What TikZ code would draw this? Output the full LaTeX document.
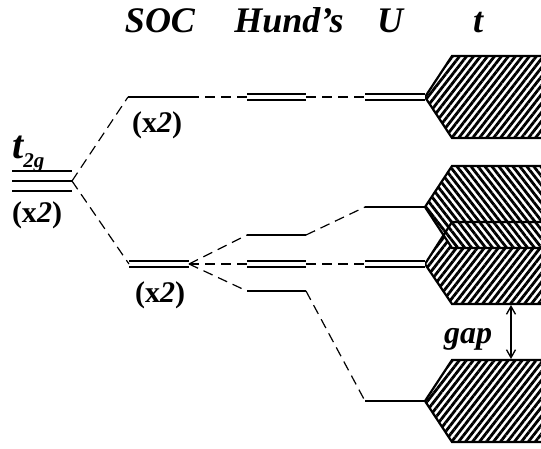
\documentclass[tikz,border=0pt]{standalone}
\usepackage{fontspec}
\setmainfont{Liberation Serif}
\usetikzlibrary{patterns.meta,arrows.meta}
\begin{document}
\begin{tikzpicture}[x=1pt,y=-1pt,
  lvl/.style={line width=1.8pt},
  dbl/.style={line width=1.5pt, double, double distance=4.5pt},
  dl/.style={line width=1.2pt, dash pattern=on 10pt off 6pt},
  hex/.style={line width=2.2pt, line join=miter},
  hatchA/.style={pattern={Lines[angle=52,distance=5.5pt,line width=2.8pt]}},
  hatchB/.style={pattern={Lines[angle=-52,distance=5.5pt,line width=2.8pt]}},
  ttl/.style={font=\fontsize{36}{36}\selectfont\bfseries\itshape, inner sep=0pt, anchor=base},
  mult/.style={font=\fontsize{30}{30}\selectfont\bfseries, inner sep=0pt}]
\useasboundingbox (0,0) rectangle (541,448);
\clip (0,0) rectangle (541,448);

% titles
\node[ttl] (soc) at (160,32) {SOC};
\node[ttl] (hund) at (289,32) {Hund's};
\node[ttl] (uu) at (390,32) {U};
\node[ttl] (tt) at (478,32) {t};

% coordinates
\coordinate (T) at (72,181);
\coordinate (S1a) at (128,97);  \coordinate (S1b) at (189,97);
\coordinate (S2a) at (129,264); \coordinate (S2b) at (189,264);
\coordinate (H1a) at (247,97);  \coordinate (H1b) at (306,97);
\coordinate (H2a) at (247,235); \coordinate (H2b) at (306,235);
\coordinate (H3a) at (247,264); \coordinate (H3b) at (306,264);
\coordinate (H4a) at (247,291); \coordinate (H4b) at (306,291);
\coordinate (U1a) at (365,97);  \coordinate (U1b) at (425,97);
\coordinate (U2a) at (365,207); \coordinate (U2b) at (425,207);
\coordinate (U3a) at (365,264); \coordinate (U3b) at (425,264);
\coordinate (U4a) at (365,401); \coordinate (U4b) at (425,401);

% hexagon bands
\fill[hatchA] (546,222) -- (452,222) -- (U3b) -- (452,304) -- (546,304) -- cycle;
\fill[white] (546,166) -- (452,166) -- (U2b) -- (452,248) -- (546,248) -- cycle;
\draw[hex,hatchB] (546,166) -- (452,166) -- (U2b) -- (452,248) -- (546,248) -- cycle;
\draw[hex] (546,222) -- (452,222) -- (U3b) -- (452,304) -- (546,304) -- cycle;
\draw[hex,hatchA] (546,56) -- (452,56) -- (U1b) -- (452,138) -- (546,138) -- cycle;
\draw[hex,hatchA] (546,360) -- (452,360) -- (U4b) -- (452,442) -- (546,442) -- cycle;

% t2g levels
\draw[lvl] (12,171) -- (72,171);
\draw[lvl] (12,181) -- (T);
\draw[lvl] (12,191) -- (72,191);
\node[inner sep=0pt, anchor=base west] (t2g) at (12,158)
  {\fontsize{40}{40}\selectfont\bfseries\itshape t\raisebox{-9pt}{\fontsize{21}{21}\selectfont 2g}};
\node[mult] (m0) at (37,215) {(x\textit{2})};

% SOC levels
\draw[lvl] (S1a) -- (S1b);
\draw[dbl] (S2a) -- (S2b);
\node[mult] (m1) at (157,125) {(x\textit{2})};
\node[mult] (m2) at (160,295) {(x\textit{2})};

% Hund's levels
\draw[dbl] (H1a) -- (H1b);
\draw[lvl] (H2a) -- (H2b);
\draw[dbl] (H3a) -- (H3b);
\draw[lvl] (H4a) -- (H4b);

% U levels
\draw[dbl] (U1a) -- (U1b);
\draw[lvl] (U2a) -- (U2b);
\draw[dbl] (U3a) -- (U3b);
\draw[lvl] (U4a) -- (U4b);

% dashed connectors
\draw[dl] (T) -- (S1a);
\draw[dl] (T) -- (S2a);
\draw[dl] (S1b) -- (H1a);
\draw[dl] (S2b) -- (H2a);
\draw[dl] (S2b) -- (H3a);
\draw[dl] (S2b) -- (H4a);
\draw[dl] (H1b) -- (U1a);
\draw[dl] (H2b) -- (U2a);
\draw[dl] (H3b) -- (U3a);
\draw[dl] (H4b) -- (U4a);

% gap
\coordinate (g1) at (511,305);
\coordinate (g2) at (511,359);
\draw[line width=1.3pt, {Straight Barb[length=8pt,width=9pt]}-{Straight Barb[length=8pt,width=9pt]}] (g1) -- (g2);
\node[font=\fontsize{32}{32}\selectfont\bfseries\itshape, inner sep=0pt, anchor=base] (gap) at (468,343) {gap};
\end{tikzpicture}
\end{document}
